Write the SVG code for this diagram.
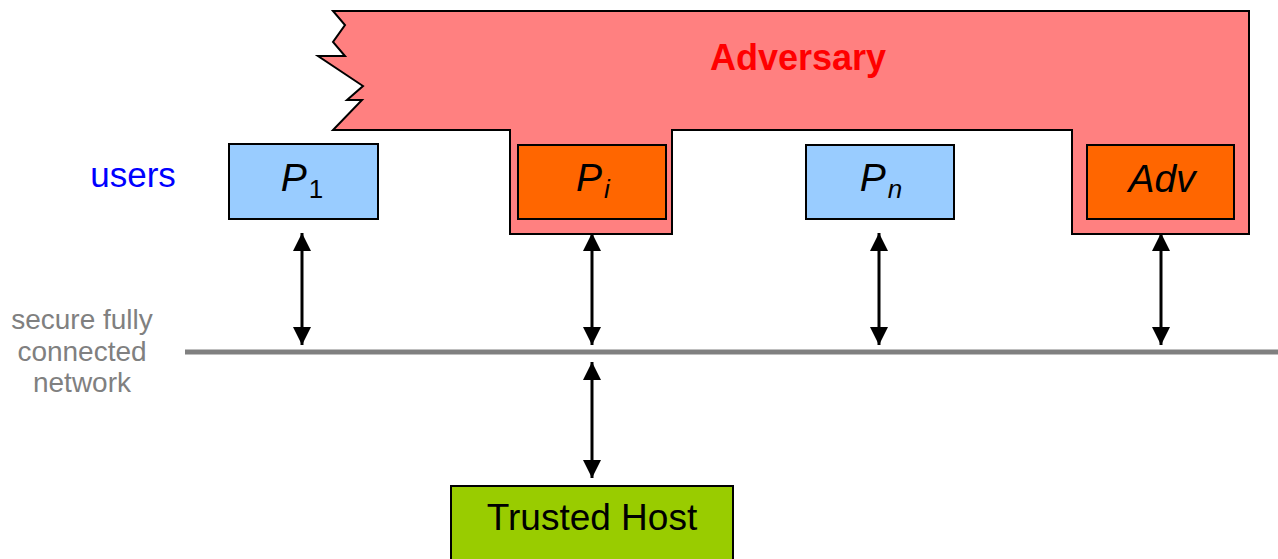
<svg xmlns="http://www.w3.org/2000/svg" width="1278" height="559" viewBox="0 0 1278 559">
  <defs>
    <marker id="head" viewBox="0 0 10 10" refX="10" refY="5" markerWidth="6" markerHeight="6" markerUnits="strokeWidth" orient="auto-start-reverse">
      <path d="M0,0 L10,5 L0,10 z" fill="#000"/>
    </marker>
    <style>
      .box { stroke: #000; stroke-width: 2; }
      .honest { fill: #99ccff; }
      .corrupt { fill: #ff6600; }
      .plabel { font-family: "Liberation Sans", Arial, sans-serif; font-style: italic; font-size: 39px; fill: #000; text-anchor: middle; }
      .sub { font-size: 26px; }
      .link { stroke: #000; stroke-width: 3; fill: none; marker-start: url(#head); marker-end: url(#head); }
      .note { font-family: "Liberation Sans", Arial, sans-serif; font-size: 28px; fill: #808080; text-anchor: middle; }
    </style>
  </defs>
  <rect width="1278" height="559" fill="#fff"/>

  <!-- adversary region with torn left edge -->
  <g id="adversary">
    <path d="M333,11 L1249,11 L1249,234 L1072,234 L1072,130 L672,130 L672,234 L510,234 L510,130 L333,130 L362,100 L347,100 L363,86 L318,56 L345,56 L333,42 L345,25 Z" fill="#ff8080" stroke="#000" stroke-width="2" stroke-linejoin="miter"/>
    <text x="798" y="70" font-family="Liberation Sans, Arial, sans-serif" font-weight="bold" font-size="36" fill="#ff0000" text-anchor="middle">Adversary</text>
  </g>

  <text id="users" x="133" y="187" font-family="Liberation Sans, Arial, sans-serif" font-size="35" fill="#0000ff" text-anchor="middle">users</text>

  <g id="p1">
    <rect class="box honest" x="229" y="144" width="149" height="75"/>
    <text class="plabel" x="302" y="191">P<tspan class="sub" dx="2" dy="7" font-style="normal">1</tspan></text>
  </g>
  <g id="pi">
    <rect class="box corrupt" x="518" y="145" width="148" height="74"/>
    <text class="plabel" x="593" y="191">P<tspan class="sub" dx="2" dy="7">i</tspan></text>
  </g>
  <g id="pn">
    <rect class="box honest" x="806" y="145" width="148" height="74"/>
    <text class="plabel" x="881" y="191">P<tspan class="sub" dx="2" dy="7">n</tspan></text>
  </g>
  <g id="adv">
    <rect class="box corrupt" x="1087" y="145" width="147" height="74"/>
    <text class="plabel" x="1162" y="192">Adv</text>
  </g>

  <g id="network">
    <line x1="185" y1="352" x2="1278" y2="352" stroke="#808080" stroke-width="5"/>
    <text class="note" x="82" y="329">secure fully</text>
    <text class="note" x="82" y="361">connected</text>
    <text class="note" x="82" y="392">network</text>
  </g>

  <g id="trusted-host">
    <rect x="451" y="486" width="282" height="80" fill="#99cc00" stroke="#000" stroke-width="2"/>
    <text x="592" y="530" font-family="Liberation Sans, Arial, sans-serif" font-size="37" fill="#000" text-anchor="middle">Trusted Host</text>
  </g>

  <g id="connectors">
    <line class="link" x1="302" y1="233" x2="302" y2="345"/>
    <line class="link" x1="592" y1="233" x2="592" y2="345"/>
    <line class="link" x1="879" y1="233" x2="879" y2="345"/>
    <line class="link" x1="1161" y1="233" x2="1161" y2="345"/>
    <line class="link" x1="592" y1="362" x2="592" y2="478"/>
  </g>
</svg>
